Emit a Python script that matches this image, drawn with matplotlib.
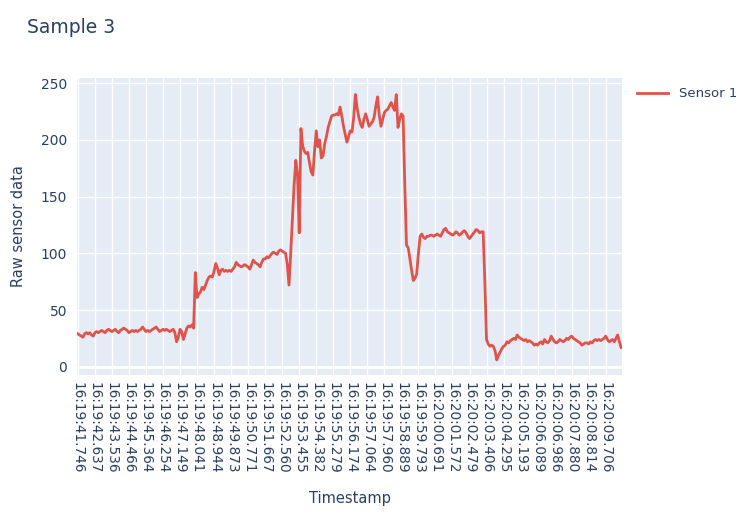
import numpy as np
import matplotlib.pyplot as plt

plt.rcParams['font.family'] = ['DejaVu Sans']

# sensor readings, one per sample
sensor_1 = [
    29, 28, 27, 26, 29, 30, 29, 30, 28, 27,
    30, 31, 30, 31, 32, 31, 30, 32, 33, 32,
    31, 32, 33, 31, 30, 32, 33, 34, 33, 32,
    30, 31, 32, 31, 32, 31, 32, 33, 35, 33,
    31, 32, 31, 32, 33, 34, 35, 33, 31, 32,
    33, 32, 33, 32, 31, 32, 33, 30, 22, 26,
    33, 31, 24, 29, 34, 36, 35, 37, 34, 83,
    61, 64, 66, 70, 68, 72, 76, 79, 80, 79,
    84, 91, 87, 81, 85, 86, 84, 85, 84, 85,
    84, 86, 88, 92, 90, 89, 88, 89, 90, 89,
    88, 86, 90, 94, 92, 91, 90, 88, 92, 95,
    95, 97, 96, 98, 100, 101, 100, 99, 102, 103,
    102, 101, 100, 90, 72, 100, 130, 160, 182, 170,
    118, 210, 195, 190, 188, 189, 180, 172, 169, 190,
    208, 194, 200, 184, 186, 197, 203, 211, 216, 221,
    222, 222, 223, 222, 229, 221, 212, 205, 198, 203,
    208, 207, 220, 240, 228, 220, 214, 211, 218, 223,
    218, 212, 214, 216, 220, 230, 238, 222, 212, 218,
    224, 226, 227, 230, 233, 229, 226, 240, 211, 218,
    223, 221, 160, 107, 105, 95, 85, 76, 78, 82,
    100, 115, 117, 114, 113, 115, 115, 116, 116, 115,
    116, 117, 116, 115, 118, 121, 122, 119, 118, 117,
    116, 117, 119, 118, 116, 117, 119, 120, 118, 115,
    113, 115, 117, 119, 121, 120, 118, 119, 119, 75,
    24, 20, 18, 19, 18, 14, 6, 10, 13, 16,
    18, 19, 22, 21, 23, 24, 25, 24, 28, 26,
    25, 24, 23, 24, 22, 23, 22, 21, 19, 20,
    19, 21, 22, 20, 24, 22, 21, 23, 27, 24,
    22, 21, 22, 24, 23, 22, 23, 25, 24, 26,
    27, 25, 24, 23, 22, 21, 19, 20, 21, 21,
    20, 22, 21, 23, 24, 23, 24, 23, 24, 25,
    27, 24, 22, 23, 24, 22, 25, 28, 22, 17,
]

# timestamps shown on the category axis (every 10th sample)
tick_labels = [
    "16:19:41.746", "16:19:42.637", "16:19:43.536", "16:19:44.466",
    "16:19:45.364", "16:19:46.254", "16:19:47.149", "16:19:48.041",
    "16:19:48.944", "16:19:49.873", "16:19:50.771", "16:19:51.667",
    "16:19:52.560", "16:19:53.455", "16:19:54.382", "16:19:55.279",
    "16:19:56.174", "16:19:57.064", "16:19:57.960", "16:19:58.889",
    "16:19:59.793", "16:20:00.691", "16:20:01.572", "16:20:02.479",
    "16:20:03.406", "16:20:04.295", "16:20:05.193", "16:20:06.089",
    "16:20:06.986", "16:20:07.880", "16:20:08.814", "16:20:09.706",
]
tick_step = 10

text_col = "#2a3f5f"

fig = plt.figure(figsize=(7.36, 5.12), dpi=100)
ax = fig.add_axes([0.1046, 0.2676, 0.7404, 0.5801])
ax.set_facecolor("#E5ECF6")

x = np.arange(len(sensor_1))
line, = ax.plot(x, sensor_1, color="#E0534A", lw=2, label="Sensor 1", zorder=3)

ax.set_xlim(-0.5, len(sensor_1) - 0.5)
ax.set_ylim(-7.3, 254.6)

ax.set_xticks(np.arange(len(tick_labels)) * tick_step)
ax.set_xticklabels(tick_labels, rotation=270, fontsize=9.8, color=text_col)
ax.set_yticks([0, 50, 100, 150, 200, 250])
ax.tick_params(axis="y", labelsize=10, labelcolor=text_col, length=0, pad=7)
ax.tick_params(axis="x", length=0, pad=5)

ax.grid(True, color="white", lw=1, zorder=0)
ax.set_axisbelow(True)
ax.axhline(0, color="white", lw=2, zorder=1)
for s in ax.spines.values():
    s.set_visible(False)

ax.set_xlabel("Timestamp", fontsize=10.5, color=text_col)
ax.set_ylabel("Raw sensor data", fontsize=10.5, color=text_col)
ax.xaxis.set_label_coords(0.5, -0.39)
ax.yaxis.set_label_coords(-0.094, 0.5)

fig.text(0.037, 0.965, "Sample 3", fontsize=13.5, color=text_col, va="top", ha="left")

ax.legend(handles=[line], loc="upper left", bbox_to_anchor=(1.01, 1.0),
          frameon=False, fontsize=9.5, labelcolor=text_col, handlelength=2.4,
          borderaxespad=0.3)

fig.savefig("out.png", dpi=100)
